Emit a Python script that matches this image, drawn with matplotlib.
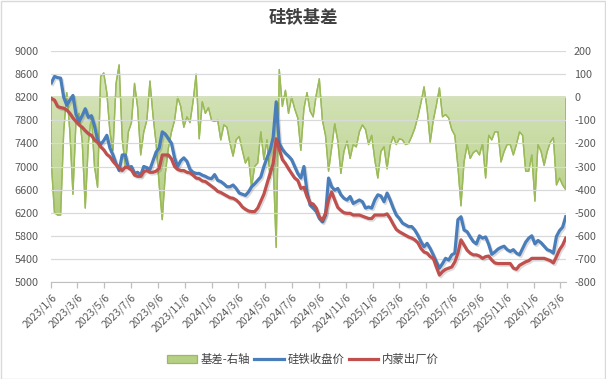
import matplotlib
matplotlib.use("Agg")
import matplotlib.pyplot as plt
import matplotlib.dates as mdates
from matplotlib import patheffects as pe
from matplotlib.colors import LinearSegmentedColormap
from matplotlib.lines import Line2D
from matplotlib.patches import Patch, Rectangle
import numpy as np
import pandas as pd

plt.rcParams["font.family"] = ["Noto Sans CJK SC", "DejaVu Sans"]
plt.rcParams["axes.unicode_minus"] = False

# weekly readings, starting 2023-01-06
start_date = "2023-01-06"

ferrosilicon_close = [
    8450, 8560, 8540, 8530, 8200, 8060, 8150, 8230, 7900, 7780,
    7880, 8000, 7850, 7880, 7700, 7460, 7380, 7450, 7540, 7320,
    7200, 7050, 6930, 7200, 7200, 6980, 7000, 6880, 6900, 6850,
    7000, 6980, 6950, 7100, 7250, 7320, 7600, 7560, 7480, 7400,
    7150, 7000, 7100, 7150, 7090, 6950, 6900, 6880, 6880, 6850,
    6830, 6800, 6790, 6860, 6760, 6740, 6700, 6650, 6650, 6680,
    6620, 6540, 6520, 6500, 6560, 6650, 6700, 6760, 6820, 7000,
    7150, 7280, 7500, 8120, 7400, 7300, 7230, 7180, 7120, 7000,
    6880, 6800, 7000, 6560, 6330, 6280, 6220, 6100, 6040, 6160,
    6800, 6650, 6590, 6620, 6510, 6450, 6420, 6480, 6360, 6390,
    6420, 6390, 6280, 6300, 6280, 6420, 6510, 6490, 6390, 6540,
    6420, 6280, 6160, 6100, 6020, 5990, 5960, 5960, 5900, 5810,
    5700, 5610, 5670, 5580, 5470, 5350, 5240, 5320, 5410, 5380,
    5470, 5500, 6080, 6130, 5900, 5870, 5780, 5700, 5660, 5800,
    5760, 5780, 5650, 5480, 5520, 5570, 5600, 5620, 5560, 5530,
    5560, 5500, 5470, 5580, 5690, 5760, 5800, 5660, 5720, 5680,
    5620, 5560, 5540, 5500, 5790, 5890, 5950, 6130,
]

inner_mongolia_price = [
    8180, 8150, 8040, 8020, 8010, 7980, 7920, 7840, 7780, 7720,
    7680, 7620, 7570, 7540, 7460, 7420, 7340, 7290, 7210, 7170,
    7090, 7030, 6980, 6930, 6990, 6980, 6940, 6850, 6830, 6830,
    6910, 6930, 6900, 6900, 6920, 6970, 7200, 7200, 7200, 7130,
    7000, 6950, 6930, 6930, 6900, 6890, 6850, 6800, 6790, 6750,
    6740, 6700, 6660, 6620, 6570, 6550, 6520, 6490, 6460, 6450,
    6420, 6370, 6300, 6260, 6230, 6220, 6220, 6280, 6400, 6520,
    6700, 6880, 7050, 7480, 7300, 7120, 7050, 6960, 6880, 6800,
    6760, 6620, 6640, 6480, 6370, 6350, 6280, 6130, 6070, 6190,
    6420, 6560, 6420, 6290, 6240, 6200, 6190, 6190, 6160, 6160,
    6160, 6140, 6120, 6100, 6100, 6160, 6160, 6160, 6160, 6180,
    6100, 6000, 5910, 5870, 5840, 5810, 5780, 5760, 5730, 5680,
    5580, 5520, 5500, 5440, 5410, 5260, 5120, 5180, 5220, 5240,
    5260, 5350, 5500, 5730, 5640, 5550, 5500, 5470, 5470, 5450,
    5410, 5440, 5450, 5380, 5330, 5320, 5320, 5320, 5320, 5320,
    5240, 5220, 5290, 5320, 5350, 5370, 5410, 5410, 5410, 5410,
    5410, 5390, 5370, 5330, 5440, 5560, 5640, 5760,
]

basis = [
    -290, -500, -510, -510, -150, 20, -150, -420, -100, -70,
    -190, -480, -200, -80, -300, -390, 90, 105, 20, -150,
    -230, 60, 140, -180, -300, -150, -110, 60, -45, -250,
    -150, -100, 70, -80, -200, -380, -530, -330, -220, -150,
    -100, 0, -40, -130, -85, -110, -20, 100, -180, -20,
    -70, -45, -100, -105, -100, -185, -120, -130, -200, -255,
    -185, -170, -230, -285, -260, -390, -300, -285, -150, -270,
    -185, -350, -280, -650, 120, -40, 30, -70, 0, -50,
    -90, -230, -50, 20, -60, -85, 10, 80, -100, -165,
    -320, -220, -115, -190, -330, -235, -190, -265, -205, -215,
    -150, -120, -140, -205, -165, -270, -350, -235, -215, -310,
    -210, -170, -205, -180, -185, -205, -200, -170, -135, -85,
    -25, 45, -50, -195, -100, -35, 40, -85, -75, -90,
    -140, -165, -300, -470, -280, -205, -265, -240, -230, -250,
    -200, -350, -165, -185, -150, -150, -280, -235, -205, -205,
    -250, -205, -150, -165, -320, -320, -250, -450, -205, -235,
    -295, -235, -195, -175, -380, -350, -380, -400,
]

tick_labels = [
    "2023/1/6", "2023/3/6", "2023/5/6", "2023/7/6", "2023/9/6", "2023/11/6",
    "2024/1/6", "2024/3/6", "2024/5/6", "2024/7/6", "2024/9/6", "2024/11/6",
    "2025/1/6", "2025/3/6", "2025/5/6", "2025/7/6", "2025/9/6", "2025/11/6",
    "2026/1/6", "2026/3/6",
]

BLUE = "#4A7EBB"
RED = "#C0504D"
GREEN = "#9BBB59"
GRID = "#D9D9D9"
TXT = "#595959"

dates = pd.date_range(start_date, periods=len(basis), freq="7D")
tick_dates = pd.to_datetime(tick_labels, format="%Y/%m/%d")

fig = plt.figure(figsize=(6.06, 3.79), dpi=100)
ax = fig.add_axes([0.0848, 0.2559, 0.8487, 0.6095])
ax2 = ax.twinx()

# basis area on the right axis, gradient fill clipped to the polygon
poly = ax2.fill_between(dates, basis, 0, facecolor="none", edgecolor=GREEN, linewidth=0.9, zorder=3)
cmap = LinearSegmentedColormap.from_list("g", ["#DCE8C6", "#C3D89B", "#98B955"])
grad = np.linspace(0, 1, 256).reshape(-1, 1)
x0, x1 = mdates.date2num(dates[0]), mdates.date2num(dates[-1])
img = ax2.imshow(grad, cmap=cmap, extent=[x0, x1, -800, 200], origin="upper", aspect="auto", zorder=2)
img.set_clip_path(poly.get_paths()[0], ax2.transData)
ax2.plot(dates, basis, color=GREEN, linewidth=1.0, zorder=4)

shadow = [pe.SimpleLineShadow(offset=(1.0, -1.2), shadow_color="black", alpha=0.14), pe.Normal()]
ax.plot(dates, ferrosilicon_close, color=BLUE, linewidth=2.3, solid_joinstyle="round", path_effects=shadow, zorder=3)
ax.plot(dates, inner_mongolia_price, color=RED, linewidth=2.3, solid_joinstyle="round", path_effects=shadow, zorder=4)

ax.set_zorder(ax2.get_zorder() + 1)
ax.patch.set_visible(False)

ax.set_xlim(x0, x1)
ax.set_ylim(5000, 9000)
ax2.set_ylim(-800, 200)

left_ticks = list(range(5000, 9001, 400))
ax.set_yticks(left_ticks)
ax.set_yticklabels([str(v) for v in left_ticks])
right_ticks = list(range(-800, 201, 100))
ax2.set_yticks(right_ticks)
ax2.set_yticklabels([str(v) for v in right_ticks])

ax.yaxis.grid(True, color=GRID, linewidth=0.9)
ax.set_axisbelow(False)

ax.set_xticks(mdates.date2num(tick_dates))
ax.set_xticklabels(tick_labels, rotation=45, ha="right", rotation_mode="anchor")

for a in (ax, ax2):
    for s in a.spines.values():
        s.set_visible(False)
ax.spines["bottom"].set_visible(True)
ax.spines["bottom"].set_color("#BFBFBF")

ax.tick_params(axis="x", colors="#BFBFBF", length=4, width=0.9, labelcolor=TXT, labelsize=7.5, pad=3)
ax.tick_params(axis="y", length=0, labelcolor=TXT, labelsize=7.8, pad=9)
ax2.tick_params(axis="y", length=0, labelcolor=TXT, labelsize=7.8, pad=6)

fig.text(0.5, 1 - 18 / 379, "硅铁基差", ha="center", va="center", fontsize=12.5,
         fontweight="bold", color="#404040")

handles = [
    Patch(facecolor="#B5CF84", edgecolor=GREEN, linewidth=0.9),
    Line2D([], [], color=BLUE, linewidth=2.3),
    Line2D([], [], color=RED, linewidth=2.3),
]
fig.legend(handles, ["基差-右轴", "硅铁收盘价", "内蒙出厂价"], loc="center",
           bbox_to_anchor=(0.5, 1 - 359 / 379), ncol=3, frameon=False, fontsize=8.2,
           handlelength=2.6, handleheight=0.7, handletextpad=0.3, columnspacing=0.4,
           labelcolor="#404040")

fig.patches.append(Rectangle((0.001, 0.001), 0.997, 0.997, transform=fig.transFigure,
                             fill=False, edgecolor=GRID, linewidth=1))

fig.savefig("out.png", dpi=100)
